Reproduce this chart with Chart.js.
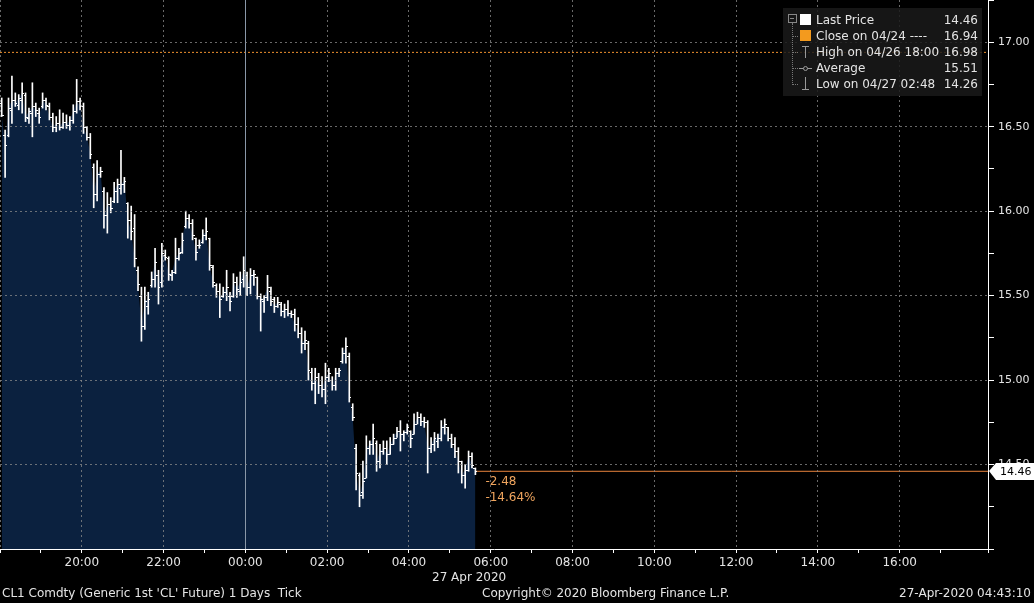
<!DOCTYPE html>
<html>
<head>
<meta charset="utf-8">
<script src="https://cdn.jsdelivr.net/npm/chart.js@4.4.1/dist/chart.umd.min.js"></script>
<style>
    html, body { margin: 0; padding: 0; background: #000; }
    #wrap { position: relative; width: 1034px; height: 603px; overflow: hidden;
            font-family: "DejaVu Sans", sans-serif; color: #e4e4e4; }
    #chart { position: absolute; left: 0; top: 0; }
    .txt { position: absolute; font-size: 12px; white-space: pre; line-height: 14px; }
    #legend { position: absolute; left: 783px; top: 8px; width: 199px; height: 88px;
              background: rgba(26, 26, 26, 0.85); }
    #legend .row { position: absolute; left: 0; width: 199px; height: 14px; font-size: 12px; line-height: 14px; }
    #legend .lbl { position: absolute; left: 33px; }
    #legend .val { position: absolute; right: 4px; }
    #legend .ic { position: absolute; }
    .tree { position: absolute; border-color: #777; }
</style>
</head>
<body>
<div id="wrap">
    <canvas id="chart" width="1034" height="603"></canvas>
    <div id="legend"></div>
    <div class="txt" style="left:432px; top:570px;">27 Apr 2020</div>
    <div class="txt" style="left:2px; top:586px;">CL1 Comdty (Generic 1st 'CL' Future) 1 Days  Tick</div>
    <div class="txt" style="left:482px; top:586px;">Copyright© 2020 Bloomberg Finance L.P.</div>
    <div class="txt" style="right:3px; top:586px;">27-Apr-2020 04:43:10</div>
</div>
<script>
// 5-minute bars starting 18:00 on 04/26 (hours relative to 27 Apr 00:00)
const startHour = -6;
const barMinutes = 5;

const opens = [
    16.64, 16.45, 16.45, 16.60, 16.66, 16.63, 16.66, 16.69, 16.55, 16.58,
    16.62, 16.58, 16.62, 16.66, 16.62, 16.56, 16.50, 16.52, 16.50, 16.53,
    16.51, 16.54, 16.59, 16.65, 16.62, 16.50, 16.44, 16.26, 16.10, 16.22,
    16.12, 15.98, 16.04, 16.06, 16.12, 16.14, 16.16, 16.05, 15.95, 15.90,
    15.65, 15.50, 15.32, 15.44, 15.56, 15.60, 15.62, 15.58, 15.74, 15.72,
    15.62, 15.64, 15.72, 15.76, 15.91, 15.96, 15.93, 15.84, 15.80, 15.82,
    15.86, 15.84, 15.67, 15.56, 15.53, 15.50, 15.52, 15.50, 15.50, 15.58,
    15.53, 15.60, 15.62, 15.55, 15.62, 15.61, 15.50, 15.47, 15.49, 15.53,
    15.48, 15.44, 15.45, 15.41, 15.42, 15.40, 15.39, 15.33, 15.28, 15.22,
    15.22, 15.05, 14.98, 15.02, 14.97, 14.95, 15.02, 15.00, 14.97, 15.04,
    15.11, 15.16, 15.14, 14.84, 14.60, 14.44, 14.34, 14.42, 14.60, 14.62,
    14.63, 14.52, 14.58, 14.60, 14.56, 14.62, 14.66, 14.70, 14.68, 14.69,
    14.70, 14.68, 14.74, 14.78, 14.76, 14.75, 14.60, 14.62, 14.64, 14.66,
    14.72, 14.72, 14.66, 14.62, 14.58, 14.52, 14.44, 14.47, 14.55, 14.48
];
const highs = [
    16.67, 16.48, 16.67, 16.80, 16.70, 16.69, 16.76, 16.70, 16.61, 16.76,
    16.64, 16.61, 16.70, 16.67, 16.64, 16.58, 16.56, 16.60, 16.58, 16.57,
    16.56, 16.63, 16.78, 16.67, 16.64, 16.50, 16.46, 16.28, 16.30, 16.26,
    16.14, 16.11, 16.08, 16.17, 16.19, 16.36, 16.20, 16.05, 16.03, 15.98,
    15.67, 15.55, 15.55, 15.52, 15.64, 15.78, 15.65, 15.81, 15.77, 15.73,
    15.65, 15.84, 15.78, 15.87, 16.00, 15.98, 15.95, 15.84, 15.83, 15.89,
    15.96, 15.84, 15.68, 15.57, 15.57, 15.55, 15.65, 15.52, 15.63, 15.61,
    15.64, 15.73, 15.64, 15.66, 15.65, 15.61, 15.51, 15.50, 15.62, 15.55,
    15.49, 15.49, 15.46, 15.45, 15.47, 15.41, 15.42, 15.37, 15.31, 15.29,
    15.23, 15.07, 15.07, 15.04, 15.02, 15.10, 15.07, 15.02, 15.07, 15.07,
    15.19, 15.25, 15.16, 14.86, 14.62, 14.45, 14.52, 14.67, 14.64, 14.74,
    14.64, 14.62, 14.64, 14.64, 14.66, 14.68, 14.72, 14.76, 14.70, 14.74,
    14.70, 14.80, 14.81, 14.80, 14.78, 14.76, 14.66, 14.69, 14.68, 14.76,
    14.77, 14.72, 14.68, 14.66, 14.60, 14.52, 14.50, 14.58, 14.57, 14.48
];
const lows = [
    16.56, 16.20, 16.44, 16.52, 16.62, 16.60, 16.58, 16.53, 16.52, 16.44,
    16.56, 16.52, 16.61, 16.60, 16.54, 16.47, 16.47, 16.48, 16.49, 16.49,
    16.48, 16.52, 16.58, 16.60, 16.46, 16.42, 16.31, 16.02, 16.06, 16.20,
    15.90, 15.87, 15.99, 16.05, 16.05, 16.10, 16.11, 15.84, 15.83, 15.67,
    15.53, 15.23, 15.30, 15.39, 15.55, 15.55, 15.45, 15.55, 15.71, 15.59,
    15.59, 15.63, 15.71, 15.75, 15.90, 15.90, 15.83, 15.71, 15.78, 15.81,
    15.83, 15.65, 15.55, 15.49, 15.37, 15.49, 15.47, 15.41, 15.49, 15.49,
    15.50, 15.55, 15.50, 15.51, 15.56, 15.48, 15.29, 15.40, 15.47, 15.44,
    15.40, 15.43, 15.38, 15.37, 15.38, 15.37, 15.29, 15.25, 15.16, 15.18,
    15.00, 14.94, 14.86, 14.92, 14.90, 14.86, 14.99, 14.94, 14.94, 15.02,
    15.10, 15.10, 14.87, 14.76, 14.35, 14.25, 14.30, 14.42, 14.56, 14.56,
    14.46, 14.48, 14.56, 14.50, 14.56, 14.62, 14.66, 14.58, 14.64, 14.68,
    14.60, 14.68, 14.74, 14.73, 14.72, 14.45, 14.57, 14.58, 14.60, 14.64,
    14.68, 14.64, 14.60, 14.54, 14.45, 14.39, 14.36, 14.46, 14.48, 14.44
];
const closes = [
    16.57, 16.39, 16.61, 16.66, 16.64, 16.67, 16.70, 16.56, 16.59, 16.62,
    16.60, 16.56, 16.66, 16.63, 16.56, 16.50, 16.52, 16.50, 16.53, 16.51,
    16.54, 16.59, 16.65, 16.62, 16.50, 16.44, 16.34, 16.10, 16.22, 16.24,
    15.98, 16.04, 16.02, 16.12, 16.16, 16.16, 16.18, 15.95, 15.88, 15.72,
    15.57, 15.32, 15.47, 15.48, 15.60, 15.70, 15.55, 15.75, 15.73, 15.63,
    15.64, 15.72, 15.75, 15.83, 15.96, 15.93, 15.86, 15.76, 15.80, 15.86,
    15.88, 15.68, 15.58, 15.53, 15.48, 15.52, 15.55, 15.47, 15.58, 15.54,
    15.58, 15.65, 15.55, 15.62, 15.63, 15.50, 15.48, 15.49, 15.55, 15.47,
    15.44, 15.46, 15.41, 15.42, 15.40, 15.39, 15.33, 15.28, 15.22, 15.24,
    15.06, 14.98, 15.02, 14.97, 14.95, 15.02, 15.04, 14.97, 15.04, 15.06,
    15.16, 15.20, 14.90, 14.78, 14.45, 14.32, 14.40, 14.60, 14.62, 14.66,
    14.52, 14.58, 14.60, 14.56, 14.62, 14.66, 14.70, 14.68, 14.69, 14.72,
    14.66, 14.74, 14.78, 14.76, 14.75, 14.60, 14.62, 14.66, 14.66, 14.72,
    14.74, 14.66, 14.62, 14.58, 14.52, 14.44, 14.47, 14.55, 14.50, 14.46
];

const prevClose = 16.94;   // Close on 04/24

const legendNames = ['Last Price', 'Close on 04/24 ----', 'High on 04/26 18:00', 'Average', 'Low on 04/27 02:48'];
const legendValues = ['14.46', '16.94', '16.98', '15.51', '14.26'];

const xMin = -6, xMax = 18.16;
const yMin = 14.0, yMax = 17.25;

const times = closes.map((c, i) => startHour + (i * barMinutes + 2.5) / 60);
const lastIdx = closes.length - 1;

// Build legend box
function buildLegend() {
    const box = document.getElementById('legend');
    let html = '';
    // tree lines
    html += '<div class="tree" style="left:5px;top:6px;width:7px;height:7px;border:1px solid #888;"></div>';
    html += '<div class="tree" style="left:7px;top:10px;width:4px;height:0;border-top:1px solid #888;"></div>';
    html += '<div class="tree" style="left:9px;top:15px;width:0;height:62px;border-left:1px dotted #777;"></div>';
    legendNames.forEach((name, i) => {
        const top = 5 + i * 16;
        let icon = '';
        if (i === 0) icon = '<span class="ic" style="left:17px;top:1px;width:11px;height:11px;background:#fff;"></span>';
        if (i === 1) icon = '<span class="ic" style="left:17px;top:1px;width:11px;height:11px;background:#f39a1e;"></span>';
        if (i === 2) icon = '<span class="ic" style="left:19px;top:1px;width:7px;height:0;border-top:1px solid #999;"></span>' +
                            '<span class="ic" style="left:22px;top:1px;width:0;height:12px;border-left:1px solid #999;"></span>';
        if (i === 3) icon = '<span class="ic" style="left:16px;top:7px;width:13px;height:0;border-top:1px solid #999;"></span>' +
                            '<span class="ic" style="left:20px;top:5px;width:3px;height:3px;border:1px solid #999;border-radius:3px;background:#1a1a1a;"></span>';
        if (i === 4) icon = '<span class="ic" style="left:22px;top:0px;width:0;height:12px;border-left:1px solid #999;"></span>' +
                            '<span class="ic" style="left:19px;top:12px;width:7px;height:0;border-top:1px solid #999;"></span>';
        const branch = i > 0 ? '<span class="ic" style="left:10px;top:7px;width:5px;height:0;border-top:1px dotted #777;"></span>' : '';
        html += `<div class="row" style="top:${top}px">${branch}${icon}<span class="lbl">${name}</span><span class="val">${legendValues[i]}</span></div>`;
    });
    box.innerHTML = html;
}
buildLegend();

// Open / close ticks on the high-low bars
const ohlcTicks = {
    id: 'ohlcTicks',
    afterDatasetsDraw(chart) {
        const { ctx, scales: { x, y } } = chart;
        ctx.save();
        ctx.strokeStyle = '#ffffff';
        ctx.lineWidth = 1;
        ctx.beginPath();
        times.forEach((t, i) => {
            const px = Math.round(x.getPixelForValue(t));
            const yo = Math.round(y.getPixelForValue(opens[i])) + 0.5;
            const yc = Math.round(y.getPixelForValue(closes[i])) + 0.5;
            ctx.moveTo(px - 2, yo); ctx.lineTo(px, yo);
            ctx.moveTo(px, yc); ctx.lineTo(px + 2, yc);
        });
        ctx.stroke();
        ctx.restore();
    }
};

// Last price marker and change labels
const lastMarker = {
    id: 'lastMarker',
    afterDraw(chart) {
        const { ctx, scales: { x, y }, chartArea } = chart;
        const last = closes[lastIdx];
        const py = Math.round(y.getPixelForValue(last));
        const bx = chartArea.right + 1;

        ctx.save();
        ctx.fillStyle = '#ffffff';
        ctx.beginPath();
        ctx.moveTo(bx, py);
        ctx.lineTo(bx + 7, py - 8);
        ctx.lineTo(1034, py - 8);
        ctx.lineTo(1034, py + 9);
        ctx.lineTo(bx + 7, py + 9);
        ctx.closePath();
        ctx.fill();
        ctx.fillStyle = '#000';
        ctx.font = '11px "DejaVu Sans"';
        ctx.textBaseline = 'middle';
        ctx.textAlign = 'left';
        ctx.fillText(last.toFixed(2), bx + 11, py + 1);

        const change = last - prevClose;
        const pct = change / prevClose * 100;
        const lx = x.getPixelForValue(times[lastIdx]) + 10;
        ctx.fillStyle = '#f0a55e';
        ctx.font = '12px "DejaVu Sans"';
        ctx.fillText(change.toFixed(2), lx, py + 11);
        ctx.fillText(pct.toFixed(2) + '%', lx, py + 27);
        ctx.restore();
    }
};

const isMajorY = v => Math.abs(v * 2 - Math.round(v * 2)) < 1e-6 && v > yMin + 1e-6 && v < yMax - 1e-6;
const isMajorX = v => Number.isInteger(v) && v % 2 === 0;

new Chart(document.getElementById('chart'), {
    type: 'bar',
    data: {
        datasets: [
            {
                label: 'Range',
                type: 'bar',
                data: times.map((t, i) => ({ x: t, y: [lows[i], highs[i]] })),
                backgroundColor: '#ffffff',
                borderWidth: 0,
                barThickness: 1,
                order: 1
            },
            {
                label: 'Last Price',
                type: 'line',
                data: times.map((t, i) => ({ x: t, y: closes[i] })),
                borderWidth: 0,
                borderColor: 'rgba(0,0,0,0)',
                backgroundColor: '#0b213f',
                fill: 'start',
                pointRadius: 0,
                order: 3
            },
            {
                label: 'Close on 04/24',
                type: 'line',
                data: [{ x: xMin, y: prevClose }, { x: xMax, y: prevClose }],
                borderColor: '#f0922e',
                borderWidth: 1,
                borderDash: [2, 2],
                pointRadius: 0,
                fill: false,
                order: 2
            },
            {
                label: 'Last line',
                type: 'line',
                data: [{ x: times[lastIdx], y: closes[lastIdx] }, { x: xMax, y: closes[lastIdx] }],
                borderColor: '#e8843c',
                borderWidth: 1,
                pointRadius: 0,
                fill: false,
                order: 0
            }
        ]
    },
    options: {
        responsive: false,
        animation: false,
        layout: { padding: 0 },
        plugins: {
            legend: { display: false },
            tooltip: { enabled: false }
        },
        scales: {
            x: {
                type: 'linear',
                min: xMin,
                max: xMax,
                offset: false,
                afterFit: (scale) => {
                    scale.height = 54;
                    scale.paddingLeft = 0;
                    scale.paddingRight = 0;
                },
                grid: {
                    z: 1,
                    offset: false,
                    color: (c) => {
                        const v = c.tick ? c.tick.value : null;
                        if (v === 0) return '#8a98a8';
                        return v !== null && isMajorX(v) ? 'rgba(140,140,140,0.75)' : 'rgba(0,0,0,0)';
                    },
                    tickColor: '#ffffff',
                    tickLength: 4,
                    lineWidth: 1
                },
                border: {
                    display: true,
                    color: '#ffffff',
                    width: 1,
                    z: 1,
                    dash: (c) => (c.tick && c.tick.value === 0) ? [] : [2, 3]
                },
                ticks: {
                    stepSize: 1,
                    autoSkip: false,
                    maxRotation: 0,
                    padding: 3,
                    color: '#e4e4e4',
                    font: { family: 'DejaVu Sans', size: 12 },
                    callback: (v) => {
                        if (!isMajorX(v) || v <= xMin || v >= 18) return '';
                        const h = (v + 24) % 24;
                        return String(h).padStart(2, '0') + ':00';
                    }
                }
            },
            y: {
                type: 'linear',
                position: 'right',
                min: yMin,
                max: yMax,
                afterFit: (scale) => {
                    scale.width = 46;
                    scale.paddingTop = 0;
                    scale.paddingBottom = 0;
                },
                grid: {
                    z: 1,
                    color: (c) => (c.tick && isMajorY(c.tick.value)) ? 'rgba(140,140,140,0.75)' : 'rgba(0,0,0,0)',
                    tickColor: '#ffffff',
                    tickLength: 6,
                    lineWidth: 1
                },
                border: {
                    display: true,
                    color: '#ffffff',
                    width: 1,
                    z: 1,
                    dash: [2, 3]
                },
                ticks: {
                    stepSize: 0.25,
                    autoSkip: false,
                    padding: 4,
                    color: '#e4e4e4',
                    font: { family: 'DejaVu Sans', size: 11 },
                    callback: (v) => isMajorY(v) ? v.toFixed(2) : ''
                }
            }
        }
    },
    plugins: [ohlcTicks, lastMarker]
});
</script>
</body>
</html>
